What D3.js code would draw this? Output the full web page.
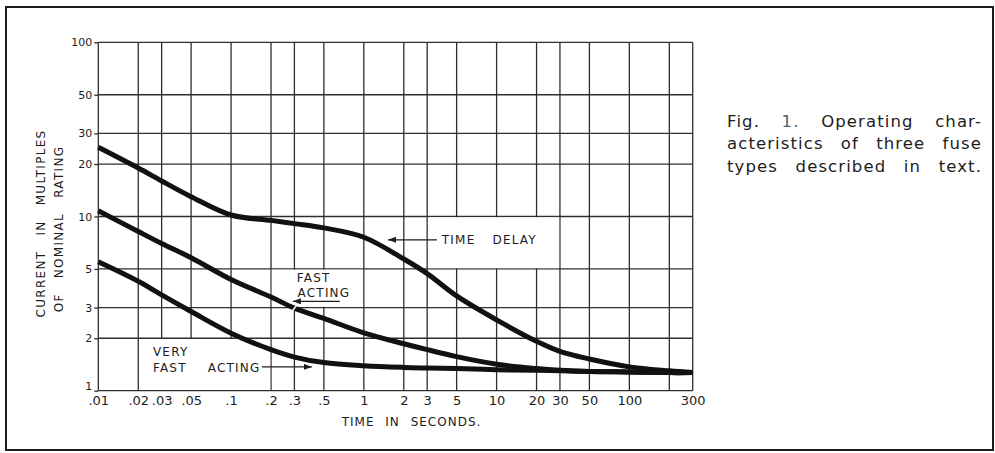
<!DOCTYPE html>
<meta charset="utf-8">
<style>
body { margin: 0; background: #fff; }
text { font-family: "DejaVu Sans", sans-serif; fill: #1c1c1c; }
.grid line { stroke: #2e2e2e; stroke-width: 1.3; }
.axis path { display: none; }
.axis line { stroke: #2e2e2e; stroke-width: 1.3; }
.xaxis text { font-size: 13px; }
.yaxis text { font-size: 11px; }
.lettering { font-size: 12px; letter-spacing: 1.2px; }
.caption { font-family: "DejaVu Sans", sans-serif; font-size: 16.5px; letter-spacing: 1.1px; }
</style>
<body>
<script src="https://d3js.org/d3.v7.min.js"></script>
<script>

// time in seconds (x) and current in multiples of rating (y)
var times      = [0.01, 0.02, 0.03, 0.05, 0.1, 0.2, 0.3, 0.5, 1, 2, 3, 5, 10, 20, 30, 50, 100, 200, 300];
var timeDelay  = [25, 19, 16, 13, 10.2, 9.5, 9.1, 8.6, 7.6, 5.7, 4.7, 3.5, 2.55, 1.92, 1.68, 1.52, 1.37, 1.30, 1.27];
var fastActing = [10.8, 8.2, 7.0, 5.8, 4.35, 3.45, 2.98, 2.6, 2.15, 1.86, 1.72, 1.57, 1.42, 1.34, 1.31, 1.29, 1.28, 1.27, 1.27];
var veryFast   = [5.5, 4.25, 3.55, 2.85, 2.14, 1.72, 1.56, 1.45, 1.39, 1.36, 1.35, 1.34, 1.32, 1.31, 1.30, 1.29, 1.28, 1.27, 1.27];

// grid + tick labels
var xGrid = [0.01, 0.02, 0.03, 0.05, 0.1, 0.2, 0.3, 0.5, 1, 2, 3, 5, 10, 20, 30, 50, 100, 200, 300];
var xLabels = [".01", ".02", ".03", ".05", ".1", ".2", ".3", ".5", "1", "2", "3", "5", "10", "20", "30", "50", "100", "", "300"];
var yGrid = [1, 2, 3, 5, 10, 20, 30, 50, 100];
var yLabels = ["1", "2", "3", "5", "10", "20", "30", "50", "100"];

var captionLines = [["Fig.", "1.", "Operating", "char-"],
                    ["acteristics", "of", "three", "fuse"],
                    ["types", "described", "in", "text."]];

var W = 995, H = 453;

var svg = d3.select("body").append("svg")
    .attr("width", W)
    .attr("height", H);

// page frame
svg.append("rect")
    .attr("x", 6).attr("y", 7)
    .attr("width", 987).attr("height", 443)
    .attr("fill", "none")
    .attr("stroke", "#1c1c1c")
    .attr("stroke-width", 2);

var x = d3.scaleLog().domain([0.01, 300]).range([98.3, 692.7]);
var y = d3.scaleLog().domain([1, 100]).range([390.7, 42.3]);

// arrowhead
svg.append("defs").append("marker")
    .attr("id", "arrow")
    .attr("viewBox", "0 0 8 6")
    .attr("refX", 8).attr("refY", 3)
    .attr("markerWidth", 8).attr("markerHeight", 6)
    .attr("markerUnits", "userSpaceOnUse")
    .attr("orient", "auto")
  .append("path")
    .attr("d", "M0,0L8,3L0,6z")
    .attr("fill", "#1c1c1c");

// grid
var grid = svg.append("g").attr("class", "grid");
grid.selectAll(".v").data(xGrid).enter().append("line")
    .attr("class", "v")
    .attr("x1", function(d) { return x(d); })
    .attr("x2", function(d) { return x(d); })
    .attr("y1", y(1)).attr("y2", y(100));
grid.selectAll(".h").data(yGrid).enter().append("line")
    .attr("class", "h")
    .attr("x1", x(0.01)).attr("x2", x(300))
    .attr("y1", function(d) { return y(d); })
    .attr("y2", function(d) { return y(d); });

// white label boxes that break the grid
var boxes = [
  {t0: 3, t1: 30, v0: 5, v1: 10},
  {t0: 0.2, t1: 1, v0: 3, v1: 5},
  {t0: 0.02, t1: 0.2, v0: 1, v1: 2}
];
svg.selectAll(".box").data(boxes).enter().append("rect")
    .attr("x", function(d) { return x(d.t0) + 0.8; })
    .attr("y", function(d) { return y(d.v1) + 0.8; })
    .attr("width", function(d) { return x(d.t1) - x(d.t0) - 1.6; })
    .attr("height", function(d) { return y(d.v0) - y(d.v1) - 1.6; })
    .attr("fill", "#fff");

// axes
svg.append("g")
    .attr("class", "axis xaxis")
    .attr("transform", "translate(0," + y(1) + ")")
    .call(d3.axisBottom(x).tickValues(xGrid).tickSize(0).tickPadding(5)
      .tickFormat(function(d, i) { return xLabels[i]; }));

var yAxis = svg.append("g")
    .attr("class", "axis yaxis")
    .attr("transform", "translate(" + x(0.01) + ",0)")
    .call(d3.axisLeft(y).tickValues(yGrid).tickSize(4).tickPadding(2)
      .tickFormat(function(d, i) { return yLabels[i]; }));
// the bottom "1" sits a little above the corner
yAxis.selectAll(".tick text").filter(function(d) { return d === 1; })
    .attr("y", -5);

// curves
var line = d3.line()
    .x(function(d) { return x(d[0]); })
    .y(function(d) { return y(d[1]); })
    .curve(d3.curveCatmullRom.alpha(0.5));

[timeDelay, fastActing, veryFast].forEach(function(s) {
  svg.append("path")
      .datum(times.map(function(t, i) { return [t, s[i]]; }))
      .attr("d", line)
      .attr("fill", "none")
      .attr("stroke", "#111")
      .attr("stroke-width", 5);
});

// leader mark across fast acting curve
svg.append("line")
    .attr("x1", x(0.29)).attr("y1", y(2.88))
    .attr("x2", x(0.315)).attr("y2", y(3.12))
    .attr("stroke", "#fff").attr("stroke-width", 1.5);

// annotations
var arrows = [
  {t0: 3.55, t1: 1.52, v: 7.35},
  {t0: 0.66, t1: 0.292, v: 3.26},
  {t0: 0.171, t1: 0.406, v: 1.37}
];
svg.selectAll(".arrow").data(arrows).enter().append("line")
    .attr("x1", function(d) { return x(d.t0); })
    .attr("x2", function(d) { return x(d.t1); })
    .attr("y1", function(d) { return y(d.v); })
    .attr("y2", function(d) { return y(d.v); })
    .attr("stroke", "#1c1c1c")
    .attr("stroke-width", 1.3)
    .attr("marker-end", "url(#arrow)");

var notes = [
  {text: "TIME DELAY", t: 3.87, v: 7.35, ws: 12},
  {text: "FAST", t: 0.313, v: 4.45, ws: 0},
  {text: "ACTING", t: 0.317, v: 3.65, ws: 0},
  {text: "VERY", t: 0.0258, v: 1.675, ws: 0},
  {text: "FAST ACTING", t: 0.0258, v: 1.357, ws: 16}
];
svg.selectAll(".note").data(notes).enter().append("text")
    .attr("class", "lettering")
    .attr("x", function(d) { return x(d.t); })
    .attr("y", function(d) { return y(d.v); })
    .attr("dy", "0.36em")
    .style("word-spacing", function(d) { return d.ws + "px"; })
    .text(function(d) { return d.text; });

// axis titles
svg.append("text")
    .attr("class", "lettering")
    .attr("x", 341.7).attr("y", 421.7)
    .attr("dy", "0.36em")
    .style("letter-spacing", "1px")
    .style("word-spacing", "6px")
    .text("TIME IN SECONDS.");

svg.append("text")
    .attr("class", "lettering")
    .attr("transform", "translate(45,223.5) rotate(-90)")
    .attr("text-anchor", "middle")
    .style("letter-spacing", "1.3px")
    .style("word-spacing", "10px")
    .text("CURRENT IN MULTIPLES");

svg.append("text")
    .attr("class", "lettering")
    .attr("transform", "translate(62.5,229) rotate(-90)")
    .attr("text-anchor", "middle")
    .style("letter-spacing", "1.3px")
    .style("word-spacing", "10px")
    .text("OF NOMINAL RATING");

// justified caption
captionLines.forEach(function(words, i) {
  var nodes = words.map(function(w) {
    return svg.append("text")
        .attr("class", "caption")
        .attr("y", 126.5 + i * 22.5)
        .style("fill", w === "1." ? "#56626e" : "#1c1c1c")
        .text(w);
  });
  var widths = nodes.map(function(n) { return n.node().getComputedTextLength(); });
  var gap = (255 - d3.sum(widths)) / (words.length - 1);
  var cx = 727;
  nodes.forEach(function(n, j) {
    n.attr("x", cx);
    cx += widths[j] + gap;
  });
});

</script>
</body>
